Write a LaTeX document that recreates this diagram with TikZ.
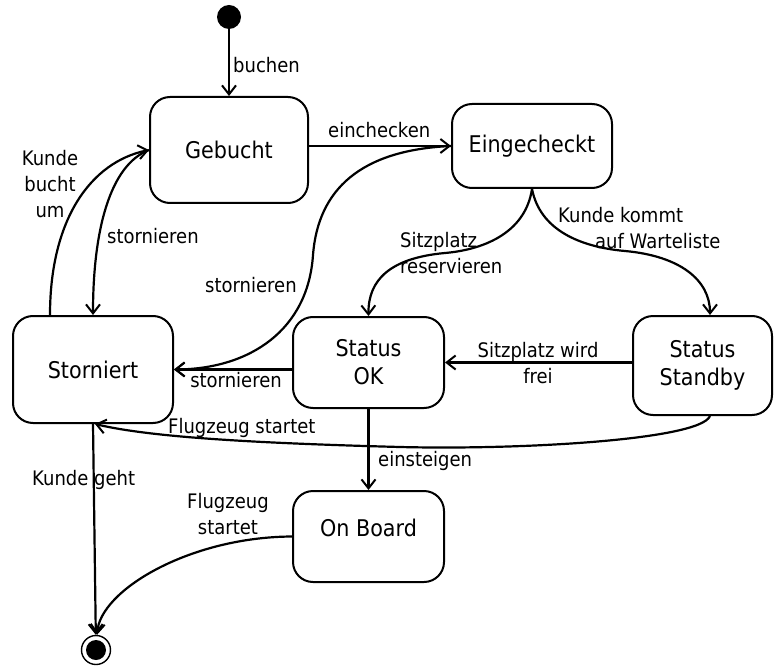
\documentclass[tikz,border=0pt]{standalone}
\usepackage{fontspec}
\setmainfont{DejaVu Sans}[FakeStretch=0.9]
\usetikzlibrary{arrows.meta,calc}
\begin{document}
\begin{tikzpicture}[x=1pt,y=-1pt,
  state/.style={draw, line width=2pt, rounded corners=20pt, align=center,
    inner sep=0pt, font=\fontsize{23}{28}\selectfont},
  trans/.style={line width=2.2pt,
    -{Straight Barb[length=9pt,width=14pt,line width=2pt]}},
  lbl/.style={inner sep=0pt, font=\fontsize{20}{26}\selectfont},
]
\fill[white] (0,0) rectangle (775,668);
\useasboundingbox (0,0) rectangle (775,668);

% states
\node[state, minimum width=158pt, minimum height=106pt] (gebucht) at (229,150) {Gebucht};
\node[state, minimum width=160pt, minimum height=84pt] (eing) at (532,146) {Eingecheckt};
\node[state, minimum width=160pt, minimum height=107pt] (storniert) at (93,369.5) {Storniert};
\node[state, minimum width=151pt, minimum height=91pt] (ok) at (368.5,362.5) {Status\\OK};
\node[state, minimum width=139pt, minimum height=99pt] (standby) at (702.5,365.5) {Status\\Standby};
\node[state, minimum width=151pt, minimum height=91pt] (onboard) at (368.5,536.5) {};
\node[font=\fontsize{23}{28}\selectfont, inner sep=0pt] (onboardtext) at (368.5,528) {On Board};

% pseudo states
\node[circle, fill=black, minimum size=24pt, inner sep=0pt] (init) at (229,17) {};
\node[circle, draw, line width=1.4pt, minimum size=29pt, inner sep=0pt] (final) at (96,650) {};
\node[circle, fill=black, minimum size=20pt, inner sep=0pt] (finaldot) at (final) {};

% transitions
\draw[trans] (init) -- (gebucht);
\draw[trans] (gebucht.east |- eing.west) -- (eing.west);
\draw[trans] ([xshift=-43pt]storniert.north) .. controls +(0,-96) and +(-58,12) .. (gebucht.west);
\draw[trans] (gebucht.west) .. controls (110,165) and (93,230) .. (storniert.north);
\draw[trans] (eing.west) .. controls (360,150) and (318,190) .. (313,255)
  .. controls (308,330) and (250,369) .. (storniert.east);
\draw[trans] (eing.south) .. controls (525,235) and (480,250) .. (445,253)
  .. controls (390,258) and (368,280) .. (ok.north);
\draw[trans] (eing.south) .. controls (540,230) and (580,247) .. (625,251)
  .. controls (680,256) and (710,280) .. ([xshift=7.5pt]standby.north);
\draw[trans] (ok.west |- storniert.east) -- (storniert.east);
\draw[trans] (standby.west |- ok.east) -- (ok.east);
\draw[trans] (ok) -- (onboard);
\draw[trans] ([xshift=7.5pt]standby.south) .. controls (700,440) and (520,450) .. (400,447)
  .. controls (250,443) and (150,437) .. ([xshift=2pt]storniert.south);
\draw[trans] (storniert.south) -- (final);
\draw[trans] (onboard.west) .. controls (190,537) and (100,590) .. (final);

% transition labels
\node[lbl, anchor=base west] (lbuchen) at (233,73) {buchen};
\node[lbl, anchor=base west] (leinchecken) at (328,138) {einchecken};
\node[lbl, align=center] (lumbuchen) at (50,184) {Kunde\\bucht\\um};
\node[lbl, anchor=base west] (lstorn1) at (107,243) {stornieren};
\node[lbl, anchor=base west] (lstorn2) at (205,292) {stornieren};
\node[lbl, align=left, anchor=west] (lsitz) at (400,253) {Sitzplatz\\reservieren};
\node[lbl, align=left, anchor=west] (lwarte) at (558,228) {Kunde kommt\\\hspace*{37pt}auf Warteliste};
\node[lbl, anchor=base] (lstorn3) at (236,387) {stornieren};
\node[lbl, align=center] (lfrei) at (538,363) {Sitzplatz wird\\frei};
\node[lbl, anchor=base west] (leinst) at (378,466) {einsteigen};
\node[lbl, anchor=base west] (lflug1) at (168,433) {Flugzeug startet};
\node[lbl, anchor=base west] (lgeht) at (32,485) {Kunde geht};
\node[lbl, align=center] (lflug2) at (228,514) {Flugzeug\\startet};
\end{tikzpicture}
\end{document}
